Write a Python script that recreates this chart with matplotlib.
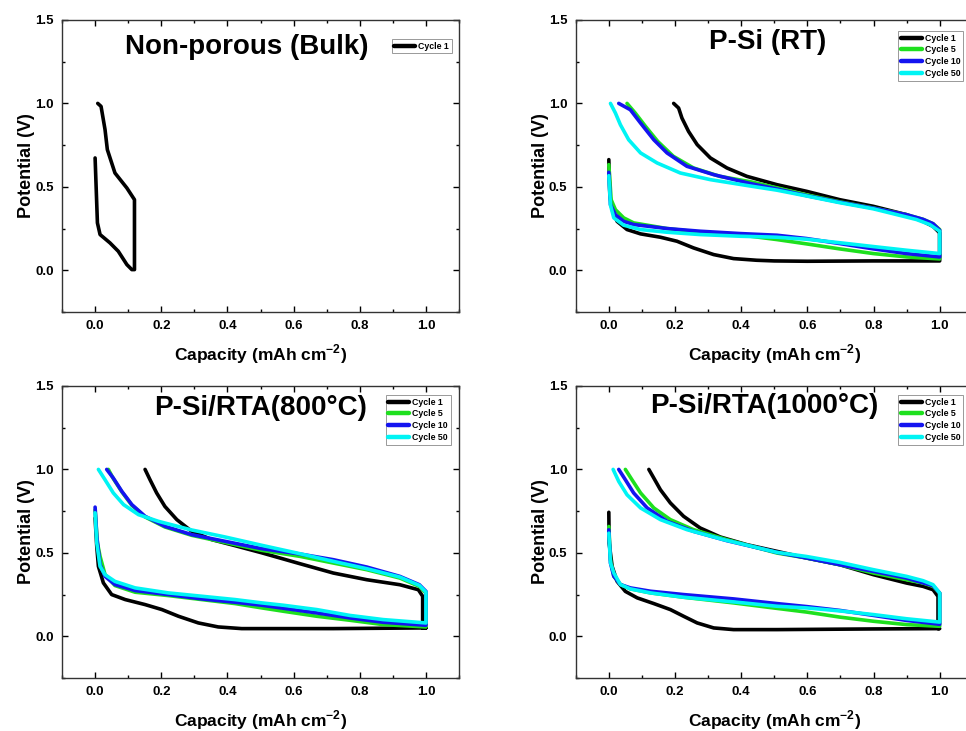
import matplotlib
matplotlib.use("Agg")
import matplotlib.pyplot as plt
from matplotlib.ticker import MultipleLocator

plt.rcParams['font.family'] = ['Liberation Sans', 'DejaVu Sans']
plt.rcParams['font.weight'] = 'bold'
plt.rcParams['mathtext.fontset'] = 'custom'
plt.rcParams['mathtext.rm'] = 'Liberation Sans:bold'
plt.rcParams['mathtext.bf'] = 'Liberation Sans:bold'
plt.rcParams['axes.unicode_minus'] = False

COLORS = ['#000000', '#1EE01E', '#1414F0', '#00F4F4']
LABELS = ['Cycle 1', 'Cycle 5', 'Cycle 10', 'Cycle 50']

# Non-porous (bulk), cycle 1
BULK_C1_X = [0.0, 0.007, 0.015, 0.045, 0.070, 0.096, 0.111, 0.119, 0.119, 0.096, 0.060,
             0.037, 0.030, 0.018, 0.008]
BULK_C1_Y = [0.673, 0.284, 0.214, 0.164, 0.114, 0.034, 0.004, 0.004, 0.423, 0.493, 0.583,
             0.723, 0.843, 0.982, 1.0]

# P-Si (RT)
RT_C1_X = [0.0, 0.003, 0.01, 0.025, 0.055, 0.096, 0.156, 0.206, 0.256, 0.317, 0.377, 0.447,
           0.5, 0.6, 0.8, 1.0, 1.0, 0.98, 0.95, 0.9, 0.8, 0.698, 0.598, 0.508, 0.417, 0.357,
           0.307, 0.267, 0.241, 0.221, 0.211, 0.196]
RT_C1_Y = [0.663, 0.453, 0.363, 0.293, 0.244, 0.218, 0.198, 0.174, 0.134, 0.094, 0.07, 0.06,
           0.056, 0.054, 0.056, 0.056, 0.224, 0.263, 0.293, 0.333, 0.383, 0.423, 0.473, 0.513,
           0.563, 0.613, 0.673, 0.753, 0.832, 0.912, 0.972, 1.0]
RT_C5_X = [0.0, 0.007, 0.02, 0.045, 0.075, 0.176, 0.276, 0.397, 0.508, 0.598, 0.698, 0.8, 0.9,
           1.0, 1.0, 0.98, 0.95, 0.9, 0.8, 0.698, 0.598, 0.508, 0.432, 0.335, 0.256, 0.195,
           0.148, 0.111, 0.08, 0.055]
RT_C5_Y = [0.633, 0.423, 0.363, 0.314, 0.284, 0.25, 0.228, 0.212, 0.184, 0.158, 0.128, 0.1,
           0.08, 0.068, 0.244, 0.279, 0.305, 0.333, 0.373, 0.41, 0.452, 0.494, 0.529, 0.563,
           0.613, 0.683, 0.772, 0.862, 0.942, 1.0]
RT_C10_X = [0.0, 0.005, 0.02, 0.045, 0.075, 0.176, 0.276, 0.397, 0.508, 0.598, 0.698, 0.8, 0.9,
            1.0, 1.0, 0.98, 0.95, 0.9, 0.8, 0.698, 0.598, 0.508, 0.427, 0.317, 0.236, 0.176,
            0.136, 0.096, 0.065, 0.03]
RT_C10_Y = [0.587, 0.393, 0.333, 0.293, 0.274, 0.25, 0.234, 0.22, 0.21, 0.19, 0.16, 0.128,
            0.1, 0.08, 0.24, 0.279, 0.305, 0.333, 0.372, 0.408, 0.447, 0.487, 0.52, 0.573,
            0.623, 0.703, 0.782, 0.882, 0.962, 1.0]
RT_C50_X = [0.0, 0.005, 0.015, 0.045, 0.096, 0.176, 0.276, 0.397, 0.508, 0.598, 0.698, 0.8,
            0.9, 1.0, 1.0, 0.97, 0.93, 0.849, 0.8, 0.698, 0.598, 0.508, 0.427, 0.307, 0.216,
            0.146, 0.096, 0.06, 0.035, 0.02, 0.005]
RT_C50_Y = [0.567, 0.39, 0.314, 0.27, 0.244, 0.228, 0.214, 0.204, 0.198, 0.186, 0.165, 0.142,
            0.12, 0.1, 0.234, 0.274, 0.304, 0.344, 0.368, 0.405, 0.445, 0.48, 0.505, 0.543,
            0.583, 0.643, 0.703, 0.782, 0.872, 0.942, 1.0]

# P-Si/RTA(800 C)
R8_C1_X = [0.0, 0.005, 0.01, 0.025, 0.05, 0.091, 0.151, 0.202, 0.252, 0.312, 0.372, 0.443,
           0.504, 0.72, 0.99, 1.0, 0.99, 0.99, 0.977, 0.921, 0.821, 0.72, 0.619, 0.504, 0.423,
           0.353, 0.292, 0.247, 0.211, 0.186, 0.166, 0.151]
R8_C1_Y = [0.709, 0.539, 0.419, 0.32, 0.25, 0.22, 0.19, 0.16, 0.12, 0.08, 0.056, 0.046,
           0.046, 0.046, 0.05, 0.05, 0.05, 0.24, 0.279, 0.309, 0.339, 0.379, 0.435, 0.5, 0.543,
           0.579, 0.629, 0.699, 0.778, 0.859, 0.938, 1.0]
R8_C5_X = [0.0, 0.007, 0.015, 0.03, 0.06, 0.121, 0.221, 0.322, 0.423, 0.504, 0.569, 0.67,
           0.77, 0.871, 1.0, 1.0, 0.98, 0.921, 0.821, 0.72, 0.619, 0.504, 0.393, 0.292, 0.211,
           0.151, 0.111, 0.081, 0.055, 0.04]
R8_C5_Y = [0.758, 0.56, 0.479, 0.37, 0.304, 0.264, 0.244, 0.22, 0.196, 0.17, 0.15, 0.12,
           0.096, 0.07, 0.056, 0.259, 0.299, 0.349, 0.399, 0.439, 0.479, 0.515, 0.562, 0.605,
           0.655, 0.715, 0.785, 0.865, 0.945, 1.0]
R8_C10_X = [0.0, 0.005, 0.015, 0.03, 0.06, 0.121, 0.221, 0.322, 0.423, 0.504, 0.569, 0.67,
            0.77, 0.871, 1.0, 1.0, 0.98, 0.921, 0.821, 0.72, 0.619, 0.504, 0.393, 0.292,
            0.211, 0.151, 0.111, 0.081, 0.055, 0.035]
R8_C10_Y = [0.774, 0.598, 0.43, 0.359, 0.31, 0.274, 0.25, 0.224, 0.204, 0.186, 0.168, 0.14,
            0.11, 0.084, 0.066, 0.269, 0.309, 0.359, 0.415, 0.459, 0.493, 0.525, 0.569, 0.609,
            0.659, 0.719, 0.789, 0.868, 0.948, 1.0]
R8_C50_X = [0.0, 0.005, 0.015, 0.03, 0.06, 0.121, 0.221, 0.322, 0.423, 0.504, 0.569, 0.67,
            0.77, 0.871, 1.0, 1.0, 0.98, 0.921, 0.821, 0.72, 0.619, 0.504, 0.393, 0.292,
            0.191, 0.131, 0.086, 0.055, 0.03, 0.01]
R8_C50_Y = [0.74, 0.56, 0.419, 0.369, 0.329, 0.29, 0.26, 0.24, 0.22, 0.2, 0.186, 0.16, 0.125,
            0.1, 0.08, 0.265, 0.305, 0.355, 0.405, 0.449, 0.495, 0.545, 0.595, 0.637, 0.689,
            0.729, 0.789, 0.859, 0.938, 1.0]

# P-Si/RTA(1000 C)
R10_C1_X = [0.0, 0.001, 0.01, 0.025, 0.05, 0.086, 0.136, 0.186, 0.226, 0.267, 0.317, 0.377,
            0.508, 0.8, 1.0, 0.995, 0.995, 0.98, 0.95, 0.9, 0.8, 0.698, 0.598, 0.508, 0.417,
            0.337, 0.276, 0.226, 0.186, 0.156, 0.136, 0.121]
R10_C1_Y = [0.743, 0.559, 0.419, 0.329, 0.269, 0.23, 0.196, 0.16, 0.12, 0.08, 0.05, 0.04,
            0.04, 0.044, 0.046, 0.046, 0.239, 0.279, 0.299, 0.319, 0.369, 0.429, 0.469, 0.509,
            0.549, 0.595, 0.649, 0.719, 0.799, 0.878, 0.948, 1.0]
R10_C5_X = [0.0, 0.005, 0.015, 0.035, 0.065, 0.126, 0.226, 0.377, 0.497, 0.598, 0.698, 0.8,
            0.9, 1.0, 1.0, 0.98, 0.95, 0.9, 0.8, 0.698, 0.598, 0.508, 0.357, 0.256, 0.186,
            0.136, 0.096, 0.07, 0.05]
R10_C5_Y = [0.658, 0.459, 0.36, 0.31, 0.284, 0.26, 0.234, 0.2, 0.17, 0.145, 0.115, 0.09,
            0.07, 0.06, 0.259, 0.299, 0.319, 0.339, 0.379, 0.429, 0.469, 0.499, 0.579, 0.639,
            0.699, 0.769, 0.859, 0.938, 1.0]
R10_C10_X = [0.0, 0.005, 0.015, 0.035, 0.065, 0.126, 0.226, 0.377, 0.508, 0.598, 0.698, 0.8,
             0.9, 1.0, 1.0, 0.98, 0.9, 0.8, 0.698, 0.598, 0.508, 0.357, 0.256, 0.176, 0.116,
             0.075, 0.05, 0.03]
R10_C10_Y = [0.638, 0.439, 0.36, 0.31, 0.29, 0.27, 0.25, 0.224, 0.196, 0.178, 0.155, 0.125,
             0.095, 0.072, 0.259, 0.303, 0.349, 0.389, 0.429, 0.469, 0.503, 0.573, 0.629,
             0.689, 0.769, 0.859, 0.938, 1.0]
R10_C50_X = [0.0, 0.005, 0.015, 0.035, 0.065, 0.126, 0.226, 0.377, 0.508, 0.598, 0.698, 0.8,
             0.9, 1.0, 1.0, 0.98, 0.95, 0.9, 0.8, 0.698, 0.598, 0.508, 0.347, 0.236, 0.156,
             0.096, 0.055, 0.03, 0.013]
R10_C50_Y = [0.618, 0.44, 0.38, 0.31, 0.284, 0.26, 0.234, 0.206, 0.18, 0.17, 0.152, 0.13,
             0.105, 0.085, 0.259, 0.309, 0.333, 0.359, 0.399, 0.443, 0.478, 0.503, 0.579,
             0.639, 0.699, 0.769, 0.848, 0.928, 1.0]

PANELS = [
    ('Non-porous (Bulk)', (0.458, 1.34), [(BULK_C1_X, BULK_C1_Y)], (0.83, 0.935)),
    ('P-Si (RT)', (0.48, 1.37),
     [(RT_C1_X, RT_C1_Y), (RT_C5_X, RT_C5_Y), (RT_C10_X, RT_C10_Y), (RT_C50_X, RT_C50_Y)],
     (0.812, 0.962)),
    ('P-Si/RTA(800°C)', (0.50, 1.37),
     [(R8_C1_X, R8_C1_Y), (R8_C5_X, R8_C5_Y), (R8_C10_X, R8_C10_Y), (R8_C50_X, R8_C50_Y)],
     (0.815, 0.969)),
    ('P-Si/RTA(1000°C)', (0.47, 1.38),
     [(R10_C1_X, R10_C1_Y), (R10_C5_X, R10_C5_Y), (R10_C10_X, R10_C10_Y),
      (R10_C50_X, R10_C50_Y)],
     (0.812, 0.969)),
]

RECTS = [
    [0.0642, 0.5732, 0.411, 0.3995],
    [0.596, 0.5732, 0.411, 0.3995],
    [0.0642, 0.0725, 0.411, 0.3995],
    [0.596, 0.0725, 0.411, 0.3995],
]

fig = plt.figure(figsize=(9.66, 7.31), dpi=100)

for rect, (title, tpos, curves, lpos) in zip(RECTS, PANELS):
    ax = fig.add_axes(rect)
    for i, (xs, ys) in enumerate(curves):
        ax.plot(xs, ys, color=COLORS[i], lw=2.6, label=LABELS[i],
                solid_joinstyle='round', solid_capstyle='round')
    ax.set_xlim(-0.1, 1.1)
    ax.set_ylim(-0.25, 1.5)
    ax.xaxis.set_major_locator(MultipleLocator(0.2))
    ax.xaxis.set_minor_locator(MultipleLocator(0.1))
    ax.yaxis.set_major_locator(MultipleLocator(0.5))
    ax.yaxis.set_minor_locator(MultipleLocator(0.25))
    ax.tick_params(which='both', direction='in', top=True, right=True, labelsize=9.5, width=1)
    ax.tick_params(which='major', length=4, pad=6)
    ax.tick_params(which='minor', length=2.5)
    for lab in ax.get_xticklabels() + ax.get_yticklabels():
        lab.set_fontweight('bold')
    for sp in ax.spines.values():
        sp.set_linewidth(1.0)
        sp.set_color('#333333')
    ax.set_xlabel('Capacity (mAh cm$^{-2}$)', fontsize=12.5, fontweight='bold', labelpad=7)
    ax.set_ylabel('Potential (V)', fontsize=13, fontweight='bold', labelpad=0)
    ax.text(tpos[0], tpos[1], title, ha='center', va='center', fontsize=20,
            fontweight='bold')
    leg = ax.legend(loc='upper left', bbox_to_anchor=lpos, fontsize=6.3, frameon=True,
                    fancybox=False, edgecolor='#999999', framealpha=1, borderpad=0.3,
                    borderaxespad=0, handlelength=2.4, handletextpad=0.35, labelspacing=0.32)
    leg.get_frame().set_linewidth(0.7)
    for h in leg.get_lines():
        h.set_linewidth(3.2)
    for t in leg.get_texts():
        t.set_fontweight('bold')

fig.savefig('out.png', dpi=100)
